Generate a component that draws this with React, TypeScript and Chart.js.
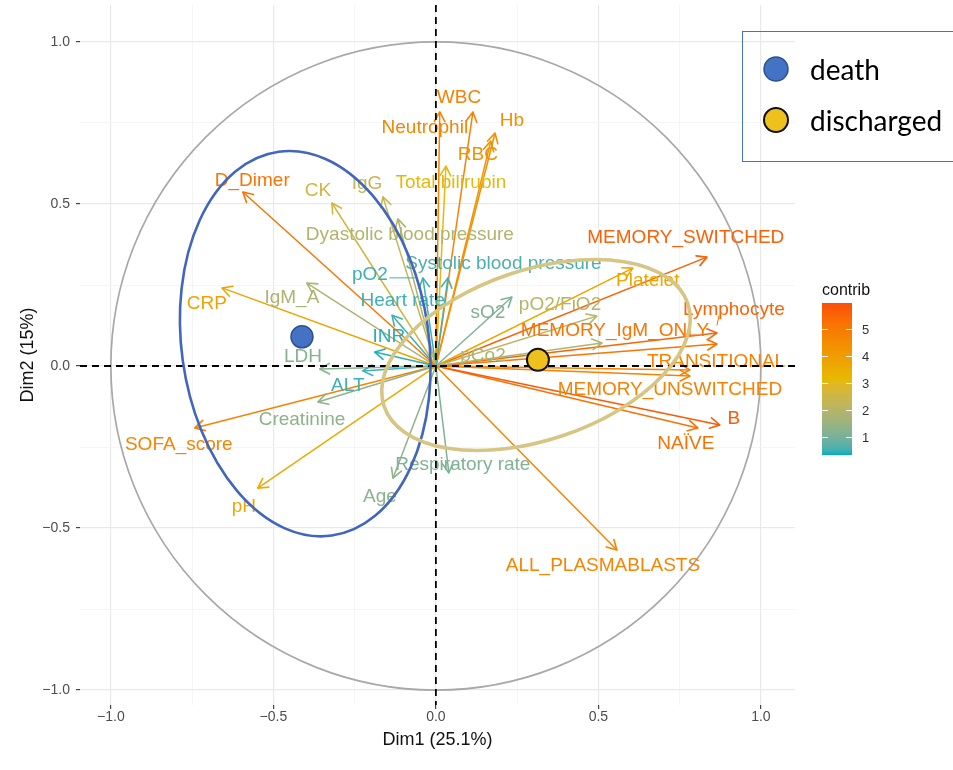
import React, { useEffect, useRef } from 'react';
import { Chart, registerables } from 'chart.js';

Chart.register(...registerables);

// ---------------- data ----------------
const variables = [
  'D_Dimer', 'CK', 'IgG', 'Dyastolic blood pressure', 'pO2', 'Systolic blood pressure', 'Heart rate', 'INR', 'IgM_A', 'CRP',
  'LDH', 'ALT', 'Creatinine', 'SOFA_score', 'pH', 'Age', 'Respiratory rate', 'WBC', 'Neutrophil', 'Hb',
  'RBC', 'Total bilirubin', 'sO2', 'pO2/FiO2', 'pCo2', 'Platelet', 'MEMORY_SWITCHED', 'Lymphocyte', 'MEMORY_IgM_ONLY', 'TRANSITIONAL',
  'MEMORY_UNSWITCHED', 'B', 'NAÏVE', 'ALL_PLASMABLASTS',
];
const dim1 = [
  -0.594, -0.320, -0.163, -0.117, -0.040, 0.037, -0.135, -0.188, -0.397, -0.658,
  -0.357, -0.225, -0.363, -0.742, -0.548, -0.132, 0.040, 0.114, 0.012, 0.182,
  0.169, 0.031, 0.234, 0.495, 0.511, 0.606, 0.834, 0.865, 0.865, 0.782,
  0.782, 0.874, 0.806, 0.557,
];
const dim2 = [
  0.537, 0.503, 0.522, 0.454, 0.272, 0.272, 0.157, 0.043, 0.256, 0.241,
  -0.009, -0.015, -0.111, -0.191, -0.377, -0.346, -0.330, 0.784, 0.784, 0.719,
  0.694, 0.617, 0.213, 0.154, 0.071, 0.302, 0.336, 0.102, 0.068, -0.012,
  -0.031, -0.182, -0.191, -0.568,
];
const contrib = [
  5.1, 2.6, 2.3, 1.9, 0.5, 0.6, 0.5, 0.4, 1.8, 3.8,
  1.2, 0.5, 1.3, 4.7, 3.6, 1.3, 1.1, 4.8, 4.7, 4.4,
  4.3, 3.1, 1.1, 2.0, 1.9, 3.7, 5.6, 5.5, 5.1, 4.8,
  4.8, 5.7, 5.2, 4.7,
];
// label anchors (repelled text positions), in Dim1/Dim2 units
const labelDim1 = [
  -0.565, -0.363, -0.212, -0.080, -0.203, 0.208, -0.102, -0.145, -0.443, -0.705,
  -0.409, -0.271, -0.412, -0.791, -0.591, -0.172, 0.083, 0.071, -0.034, 0.234,
  0.129, 0.046, 0.160, 0.382, 0.145, 0.652, 0.769, 0.917, 0.551, 0.862,
  0.720, 0.917, 0.769, 0.514,
];
const labelDim2 = [
  0.574, 0.543, 0.565, 0.407, 0.284, 0.318, 0.204, 0.093, 0.213, 0.194,
  0.031, -0.059, -0.164, -0.241, -0.432, -0.401, -0.302, 0.830, 0.738, 0.759,
  0.654, 0.568, 0.167, 0.191, 0.034, 0.265, 0.398, 0.176, 0.111, 0.015,
  -0.071, -0.160, -0.238, -0.614,
];
const segmentLabels = ['pO2', 'Lymphocyte'];

const groups = ['death', 'discharged'];
const groupDim1 = [-0.412, 0.314];
const groupDim2 = [0.090, 0.019];
const ellipseDim1 = [-0.402, 0.308];
const ellipseDim2 = [0.069, 0.034];
const ellipseMajor = [0.597, 0.494];
const ellipseMinor = [0.381, 0.262];
const ellipseAngle = [97.9, 18.7];

const axisTicks = [-1, -0.5, 0, 0.5, 1];
const minorTicks = [-0.75, -0.25, 0.25, 0.75];
const contribTicks = [1, 2, 3, 4, 5];
const contribRange = [0.33, 5.96];

// ---------------- styles ----------------
const FONT = '"Liberation Sans", Arial, Helvetica, sans-serif';
const gradLow = '#00AFBB';
const gradMid = '#E7B800';
const gradHigh = '#FC4E07';
const groupFill = ['#4472C4', '#EFC11C'];
const groupStroke = ['#2F528F', '#111111'];
const ellipseColor = ['#4266BC', '#D6C583'];
const ellipseWidth = [2.6, 3.6];

// ---------------- colour helpers (Lab interpolation like ggplot) ----------------
function hexToRgb(h: string): number[] {
  const s = h.replace('#', '');
  return [0, 2, 4].map((i) => parseInt(s.slice(i, i + 2), 16));
}
function lin(c: number) {
  c /= 255;
  return c <= 0.04045 ? c / 12.92 : Math.pow((c + 0.055) / 1.055, 2.4);
}
function unlin(c: number) {
  const v = c <= 0.0031308 ? 12.92 * c : 1.055 * Math.pow(c, 1 / 2.4) - 0.055;
  return Math.max(0, Math.min(255, Math.round(v * 255)));
}
function rgbToLab(rgb: number[]): number[] {
  const [R, G, B] = rgb.map(lin);
  const X = (0.4124 * R + 0.3576 * G + 0.1805 * B) / 0.95047;
  const Y = 0.2126 * R + 0.7152 * G + 0.0722 * B;
  const Z = (0.0193 * R + 0.1192 * G + 0.9505 * B) / 1.08883;
  const f = (t: number) => (t > 0.008856 ? Math.cbrt(t) : 7.787 * t + 16 / 116);
  const fx = f(X), fy = f(Y), fz = f(Z);
  return [116 * fy - 16, 500 * (fx - fy), 200 * (fy - fz)];
}
function labToRgb(lab: number[]): number[] {
  const [L, a, b] = lab;
  const fy = (L + 16) / 116;
  const fx = fy + a / 500;
  const fz = fy - b / 200;
  const finv = (t: number) => (t * t * t > 0.008856 ? t * t * t : (t - 16 / 116) / 7.787);
  const X = finv(fx) * 0.95047, Y = finv(fy), Z = finv(fz) * 1.08883;
  const R = 3.2406 * X - 1.5372 * Y - 0.4986 * Z;
  const G = -0.9689 * X + 1.8758 * Y + 0.0415 * Z;
  const B = 0.0557 * X - 0.2040 * Y + 1.0570 * Z;
  return [unlin(R), unlin(G), unlin(B)];
}
const labLow = rgbToLab(hexToRgb(gradLow));
const labMid = rgbToLab(hexToRgb(gradMid));
const labHigh = rgbToLab(hexToRgb(gradHigh));
function colorForContrib(v: number): string {
  let t = (v - contribRange[0]) / (contribRange[1] - contribRange[0]);
  t = Math.max(0, Math.min(1, t));
  let a: number[], b: number[], u: number;
  if (t < 0.5) { a = labLow; b = labMid; u = t / 0.5; } else { a = labMid; b = labHigh; u = (t - 0.5) / 0.5; }
  const lab = [0, 1, 2].map((i) => a[i] + (b[i] - a[i]) * u);
  const [r, g, bb] = labToRgb(lab);
  return `rgb(${r},${g},${bb})`;
}

const isMajor = (v: number) => axisTicks.some((t) => Math.abs(t - v) < 1e-9);
const fmt = (v: number) => (v < -1e-9 ? '\u2212' : '') + Math.abs(v).toFixed(1);
const gridValues = [...axisTicks, ...minorTicks].sort((a, b) => a - b);

const POINTS_INDEX = variables.length;

const overlayPlugin = {
  id: 'pcaOverlay',
  beforeDatasetsDraw(chart: any) {
    const { ctx, chartArea } = chart;
    const xs = chart.scales.x, ys = chart.scales.y;
    const cx = xs.getPixelForValue(0), cy = ys.getPixelForValue(0);
    const rx = xs.getPixelForValue(1) - cx;
    const ry = cy - ys.getPixelForValue(1);
    ctx.save();
    ctx.beginPath();
    ctx.rect(chartArea.left, chartArea.top, chartArea.right - chartArea.left, chartArea.bottom - chartArea.top);
    ctx.clip();
    ctx.strokeStyle = '#A8A8A8';
    ctx.lineWidth = 1.7;
    ctx.beginPath();
    ctx.ellipse(cx, cy, rx, ry, 0, 0, Math.PI * 2);
    ctx.stroke();
    ctx.restore();
  },
  beforeDatasetDraw(chart: any, args: any) {
    if (args.index !== POINTS_INDEX) return;
    const { ctx, chartArea } = chart;
    const xs = chart.scales.x, ys = chart.scales.y;
    const ox = xs.getPixelForValue(0), oy = ys.getPixelForValue(0);
    ctx.save();
    // arrowheads
    ctx.lineCap = 'round';
    ctx.lineJoin = 'round';
    variables.forEach((_, i) => {
      const tx = xs.getPixelForValue(dim1[i]);
      const ty = ys.getPixelForValue(dim2[i]);
      const ang = Math.atan2(ty - oy, tx - ox);
      const len = 11, spread = 0.5;
      ctx.strokeStyle = colorForContrib(contrib[i]);
      ctx.lineWidth = 1.6;
      ctx.beginPath();
      ctx.moveTo(tx - len * Math.cos(ang - spread), ty - len * Math.sin(ang - spread));
      ctx.lineTo(tx, ty);
      ctx.lineTo(tx - len * Math.cos(ang + spread), ty - len * Math.sin(ang + spread));
      ctx.stroke();
    });
    // labels
    ctx.font = `19px ${FONT}`;
    ctx.textAlign = 'center';
    ctx.textBaseline = 'middle';
    variables.forEach((name, i) => {
      const lx = xs.getPixelForValue(labelDim1[i]);
      const ly = ys.getPixelForValue(labelDim2[i]);
      const col = colorForContrib(contrib[i]);
      ctx.fillStyle = col;
      ctx.fillText(name, lx, ly + 1);
      if (segmentLabels.includes(name)) {
        const w = ctx.measureText(name).width;
        const tx = xs.getPixelForValue(dim1[i]);
        const ty = ys.getPixelForValue(dim2[i]);
        const sx = Math.max(lx - w / 2, Math.min(tx, lx + w / 2));
        const sy = Math.max(ly - 7, Math.min(ty, ly + 7));
        const d = Math.hypot(tx - sx, ty - sy);
        const ex = tx - ((tx - sx) / d) * 8;
        const ey = ty - ((ty - sy) / d) * 8;
        ctx.strokeStyle = col;
        ctx.lineWidth = 1;
        ctx.beginPath();
        ctx.moveTo(sx + 2, sy);
        ctx.lineTo(ex, ey);
        ctx.stroke();
      }
    });
    // clip for lines
    ctx.beginPath();
    ctx.rect(chartArea.left, chartArea.top, chartArea.right - chartArea.left, chartArea.bottom - chartArea.top);
    ctx.clip();
    // dashed reference lines
    ctx.strokeStyle = '#000000';
    ctx.lineWidth = 1.8;
    ctx.lineCap = 'butt';
    ctx.setLineDash([7, 5]);
    ctx.beginPath();
    ctx.moveTo(chartArea.left, oy);
    ctx.lineTo(chartArea.right, oy);
    ctx.moveTo(ox, chartArea.top);
    ctx.lineTo(ox, chartArea.bottom);
    ctx.stroke();
    ctx.setLineDash([]);
    // concentration ellipses
    groups.forEach((_, g) => {
      const ex = xs.getPixelForValue(ellipseDim1[g]);
      const ey = ys.getPixelForValue(ellipseDim2[g]);
      const sx = xs.getPixelForValue(1) - xs.getPixelForValue(0);
      const sy = ys.getPixelForValue(0) - ys.getPixelForValue(1);
      const k = (sx + sy) / 2;
      ctx.strokeStyle = ellipseColor[g];
      ctx.lineWidth = ellipseWidth[g];
      ctx.beginPath();
      ctx.ellipse(ex, ey, ellipseMajor[g] * k, ellipseMinor[g] * k, -ellipseAngle[g] * Math.PI / 180, 0, Math.PI * 2);
      ctx.stroke();
    });
    ctx.restore();
  },
  afterDraw(chart: any) {
    const { ctx } = chart;
    ctx.save();
    // colour bar legend
    const barL = 822, barR = 852, barT = 303, barB = 455;
    const valToY = (v: number) => barB - ((v - contribRange[0]) / (contribRange[1] - contribRange[0])) * (barB - barT);
    const grad = ctx.createLinearGradient(0, barB, 0, barT);
    for (let s = 0; s <= 40; s++) {
      const v = contribRange[0] + (s / 40) * (contribRange[1] - contribRange[0]);
      grad.addColorStop(s / 40, colorForContrib(v));
    }
    ctx.fillStyle = grad;
    ctx.fillRect(barL, barT, barR - barL, barB - barT);
    ctx.strokeStyle = '#FFFFFF';
    ctx.lineWidth = 1;
    ctx.font = `13px ${FONT}`;
    ctx.textAlign = 'left';
    ctx.textBaseline = 'middle';
    ctx.fillStyle = '#333333';
    contribTicks.forEach((v) => {
      const y = Math.round(valToY(v)) + 0.5;
      ctx.beginPath();
      ctx.moveTo(barL, y); ctx.lineTo(barL + 6, y);
      ctx.moveTo(barR - 6, y); ctx.lineTo(barR, y);
      ctx.stroke();
      ctx.fillText(String(v), barR + 10, y + 1);
    });
    ctx.fillStyle = '#111111';
    ctx.font = `16px ${FONT}`;
    ctx.textBaseline = 'alphabetic';
    ctx.fillText('contrib', barL, 295);

    // group legend box
    ctx.strokeStyle = '#4472C4';
    ctx.lineWidth = 1;
    ctx.strokeRect(742.5, 31.5, 230, 130);
    const items = [69, 120];
    groups.forEach((name, g) => {
      ctx.beginPath();
      ctx.arc(776, items[g], 12, 0, Math.PI * 2);
      ctx.fillStyle = groupFill[g];
      ctx.fill();
      ctx.strokeStyle = groupStroke[g];
      ctx.lineWidth = g === 0 ? 1.5 : 2;
      ctx.stroke();
      ctx.fillStyle = '#000000';
      ctx.font = `28px Lato, "Open Sans", sans-serif`;
      ctx.textAlign = 'left';
      ctx.textBaseline = 'alphabetic';
      ctx.fillText(name, 810, items[g] + 11);
    });
    ctx.restore();
  },
};

export default function App() {
  const canvasRef = useRef<HTMLCanvasElement | null>(null);

  useEffect(() => {
    const canvas = canvasRef.current;
    if (!canvas) return;

    const arrowSets = variables.map((name, i) => ({
      type: 'scatter' as const,
      label: name,
      data: [{ x: 0, y: 0 }, { x: dim1[i], y: dim2[i] }],
      showLine: true,
      borderColor: colorForContrib(contrib[i]),
      backgroundColor: colorForContrib(contrib[i]),
      borderWidth: 1.5,
      pointRadius: 0,
      order: 1,
    }));
    const pointSet = {
      type: 'scatter' as const,
      label: 'groups',
      data: groups.map((_, g) => ({ x: groupDim1[g], y: groupDim2[g] })),
      showLine: false,
      pointRadius: 11,
      pointBackgroundColor: groupFill,
      pointBorderColor: groupStroke,
      pointBorderWidth: [1.5, 2],
      order: -1,
    };

    const tickFont = { family: FONT, size: 14 };
    const gridColor = (c: any) => (c.tick && isMajor(c.tick.value) ? '#E9E9E9' : '#F3F3F3');
    const gridWidth = (c: any) => (c.tick && isMajor(c.tick.value) ? 1.2 : 0.8);
    const tickColor = (c: any) => (c.tick && isMajor(c.tick.value) ? '#444444' : 'rgba(0,0,0,0)');

    const chart = new Chart(canvas, {
      type: 'scatter',
      data: { datasets: [...arrowSets, pointSet] as any },
      plugins: [overlayPlugin],
      options: {
        animation: false,
        responsive: false,
        events: [],
        devicePixelRatio: 1,
        layout: { autoPadding: false, padding: { left: 0, right: 158, top: 5, bottom: 0 } },
        plugins: { legend: { display: false }, tooltip: { enabled: false } },
        scales: {
          x: {
            type: 'linear',
            min: -1.095,
            max: 1.105,
            afterBuildTicks: (s: any) => { s.ticks = gridValues.map((v) => ({ value: v })); },
            afterFit: (s: any) => { s.height = 65; s.paddingLeft = 0; s.paddingRight = 0; },
            ticks: {
              autoSkip: false,
              maxRotation: 0,
              padding: 0,
              color: '#4D4D4D',
              font: tickFont,
              callback: (v: any) => (isMajor(Number(v)) ? fmt(Number(v)) : ''),
            },
            grid: { color: gridColor, lineWidth: gridWidth, tickColor, tickLength: 4 },
            border: { display: false },
            title: {
              display: true,
              text: 'Dim1 (25.1%)',
              color: '#111111',
              font: { family: FONT, size: 18 },
              padding: { top: 0, bottom: 19 },
            },
          },
          y: {
            type: 'linear',
            min: -1.046,
            max: 1.114,
            afterBuildTicks: (s: any) => { s.ticks = gridValues.map((v) => ({ value: v })); },
            afterFit: (s: any) => { s.width = 80; s.paddingTop = 0; s.paddingBottom = 0; },
            ticks: {
              autoSkip: false,
              padding: 6,
              color: '#4D4D4D',
              font: tickFont,
              callback: (v: any) => (isMajor(Number(v)) ? fmt(Number(v)) : ''),
            },
            grid: { color: gridColor, lineWidth: gridWidth, tickColor, tickLength: 4 },
            border: { display: false },
            title: {
              display: true,
              text: 'Dim2 (15%)',
              color: '#111111',
              font: { family: FONT, size: 18 },
              padding: { top: 17, bottom: 0 },
            },
          },
        },
      } as any,
    });
    return () => chart.destroy();
  }, []);

  return (
    <div style={{ position: 'absolute', left: 0, top: 0, width: 953, height: 770, background: '#FFFFFF' }}>
      <canvas ref={canvasRef} width={953} height={770} style={{ display: 'block', width: 953, height: 770 }} />
    </div>
  );
}
